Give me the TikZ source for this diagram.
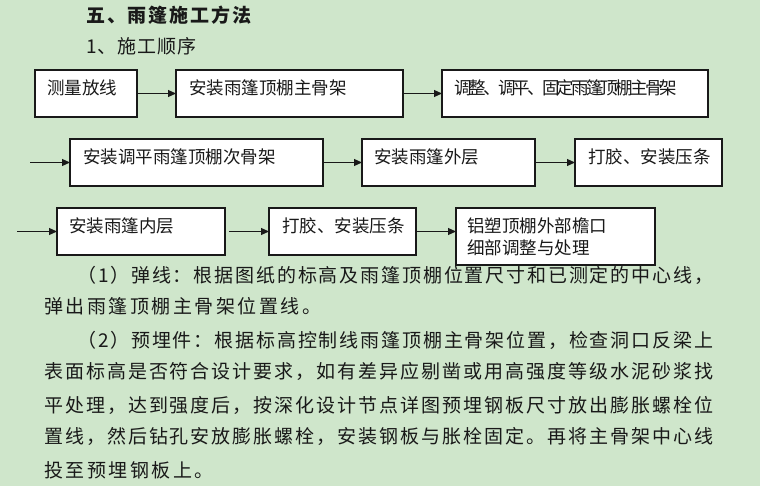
\documentclass[tikz,border=0pt]{standalone}
\usepackage{fontspec}
\newfontfamily\cjk{Noto Sans CJK SC}
\usetikzlibrary{arrows.meta,calc}
\definecolor{bg}{RGB}{207,230,203}
\definecolor{ink}{RGB}{25,25,25}
\makeatletter
\def\spreadtext#1{\spread@first#1\relax}
\def\spread@first#1{#1\spread@rest}
\def\spread@rest#1{\ifx#1\relax\else\hss#1\expandafter\spread@rest\fi}
\makeatother
\newcommand\spreadline[2]{\hbox to #1{\spreadtext{#2}}}
\begin{document}
\begin{tikzpicture}[x=1pt,y=-1pt,
  box/.style={draw=ink, line width=1.3pt, fill=white, inner sep=0pt, outer sep=0pt, anchor=north west},
  lbl/.style={anchor=base west, inner sep=0pt, font=\cjk\fontsize{17.5}{20}\selectfont, text=ink},
  para/.style={anchor=base west, inner sep=0pt, font=\cjk\fontsize{19}{22}\selectfont, text=ink},
  ttl/.style={anchor=base west, inner sep=0pt, font=\cjk\fontsize{19}{22}\selectfont, text=ink},
  arr/.style={-{Triangle[length=8pt,width=7pt]}, line width=1.1pt, draw=ink}]
\fill[bg] (0,0) rectangle (760,486);
\useasboundingbox (0,0) rectangle (760,486);
% titles
\node[ttl, font=\cjk\bfseries\fontsize{19}{22}\selectfont] (h1) at (86,22.2) {\spreadline{165pt}{五、雨篷施工方法}};
\node[ttl] (h2) at (86,53.2) {\spreadline{110pt}{1、施工顺序}};
% row 1
\node[box, minimum width=102pt, minimum height=47pt] (b1) at (35,70) {};
\node[box, minimum width=227pt, minimum height=47pt] (b2) at (176,70) {};
\node[box, minimum width=266pt, minimum height=47pt] (b3) at (442,70) {};
% row 2
\node[box, minimum width=253pt, minimum height=47pt] (b4) at (70,139) {};
\node[box, minimum width=173pt, minimum height=47pt] (b5) at (362,139) {};
\node[box, minimum width=147pt, minimum height=47pt] (b6) at (575,139) {};
% row 3
\node[box, minimum width=168pt, minimum height=47pt] (b7) at (57,208) {};
\node[box, minimum width=147pt, minimum height=47pt] (b8) at (269,208) {};
\node[box, minimum width=199pt, minimum height=57pt] (b9) at (456,208) {};
% box texts
\node[lbl] (t1) at ($(b1.north west)+(12,24.5)$) {测量放线};
\node[lbl] (t2) at ($(b2.north west)+(13,24.5)$) {安装雨篷顶棚主骨架};
\node[lbl] (t3) at ($(b3.north west)+(12,24.5)$) {\spreadline{223pt}{调整、调平、固定雨篷顶棚主骨架}};
\node[lbl] (t4) at ($(b4.north west)+(13,25)$) {安装调平雨篷顶棚次骨架};
\node[lbl] (t5) at ($(b5.north west)+(12,25)$) {安装雨篷外层};
\node[lbl] (t6) at ($(b6.north west)+(13,25)$) {打胶、安装压条};
\node[lbl] (t7) at ($(b7.north west)+(12,24.5)$) {安装雨篷内层};
\node[lbl] (t8) at ($(b8.north west)+(13,24.5)$) {打胶、安装压条};
\node[lbl] (t9a) at ($(b9.north west)+(11,24.5)$) {铝塑顶棚外部檐口};
\node[lbl] (t9b) at ($(b9.north west)+(11,46.5)$) {细部调整与处理};
% arrows
\coordinate (s4) at (30,162.5);
\coordinate (s7) at (17,231.5);
\draw[arr] (b1.east) -- (b2.west);
\draw[arr] (b2.east) -- (b3.west);
\draw[arr] (s4) -- (b4.west);
\draw[arr] (b4.east) -- (b5.west);
\draw[arr] (b5.east) -- (b6.west);
\draw[arr] (s7) -- (b7.west);
\draw[arr, shorten <=4pt] (b7.east) -- (b8.west);
\draw[arr] (b8.east) -- (b8.east -| b9.west);
% paragraph
\node[para] (p1) at (77,282.5) {\spreadline{636pt}{（1）弹线：根据图纸的标高及雨篷顶棚位置尺寸和已测定的中心线，}};
\node[para] (p2) at (44,313.8) {\spreadline{277pt}{弹出雨篷顶棚主骨架位置线。}};
\node[para] (p3) at (77,347.2) {\spreadline{636pt}{（2）预埋件：根据标高控制线雨篷顶棚主骨架位置，检查洞口反梁上}};
\node[para] (p4) at (44,378.8) {\spreadline{669pt}{表面标高是否符合设计要求，如有差异应剔凿或用高强度等级水泥砂浆找}};
\node[para] (p5) at (44,412.2) {\spreadline{669pt}{平处理，达到强度后，按深化设计节点详图预埋钢板尺寸放出膨胀螺栓位}};
\node[para] (p6) at (44,443.8) {\spreadline{669pt}{置线，然后钻孔安放膨胀螺栓，安装钢板与胀栓固定。再将主骨架中心线}};
\node[para] (p7) at (44,477.2) {\spreadline{169.5pt}{投至预埋钢板上。}};
\end{tikzpicture}
\end{document}
